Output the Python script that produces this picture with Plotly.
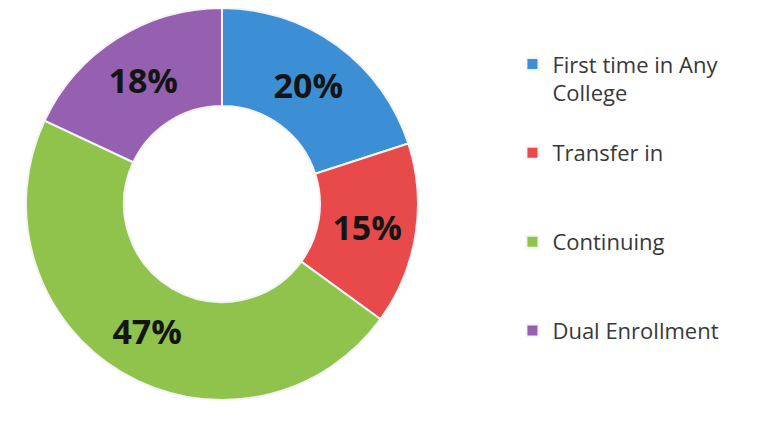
import plotly.graph_objects as go

categories = ["First time in Any College", "Transfer in", "Continuing", "Dual Enrollment"]
legend_labels = ["First time in Any<br>College<br> ", "Transfer in<br> <br> ", "Continuing<br> <br> ", "Dual Enrollment"]
values = [20, 15, 47, 18]
colors = ["#3d8fd5", "#e84a4c", "#8fc34c", "#9560b0"]

fig = go.Figure(go.Pie(
    labels=legend_labels,
    values=values,
    customdata=categories,
    hole=0.5,
    sort=False,
    direction="clockwise",
    rotation=0,
    marker=dict(colors=colors, line=dict(color="#f4f4f4", width=2)),
    texttemplate="%{value}%",
    textposition="inside",
    insidetextorientation="horizontal",
    textfont=dict(family="Open Sans", size=34, color="#141414", weight="bold"),
    hovertemplate="%{customdata}: %{value}%<extra></extra>",
    domain=dict(x=[0.0236, 0.538], y=[0.0884, 1.0]),
))

fig.update_layout(
    width=762, height=430,
    margin=dict(l=0, r=0, t=0, b=0),
    paper_bgcolor="white",
    plot_bgcolor="white",
    showlegend=True,
    legend=dict(
        x=0.662, y=0.918, xanchor="left", yanchor="top",
        valign="top",
        font=dict(family="Open Sans", size=22, color="#383838"),
        bgcolor="rgba(0,0,0,0)",
    ),
)

fig.write_html("out.html")
